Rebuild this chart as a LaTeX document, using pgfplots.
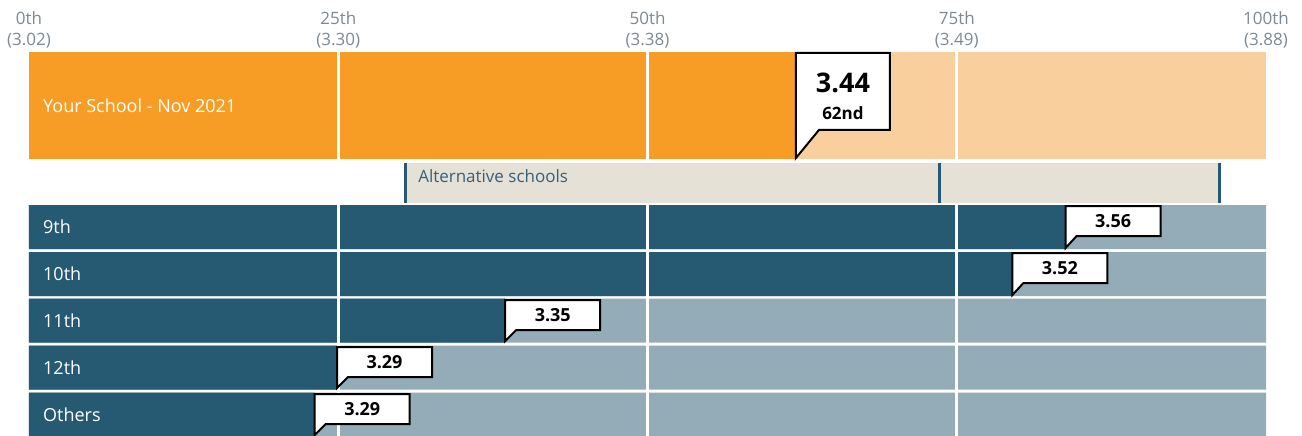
\documentclass[border=0pt]{standalone}
\usepackage{fontspec}
\setmainfont{Open Sans}
\usepackage{pgfplots}
\pgfplotsset{compat=1.18}

\definecolor{orangeD}{HTML}{F79D26}
\definecolor{orangeL}{HTML}{F9CF9E}
\definecolor{blueD}{HTML}{255A72}
\definecolor{blueL}{HTML}{94ABB8}
\definecolor{beige}{HTML}{E5E1D6}
\definecolor{tickgray}{HTML}{7D8891}
\definecolor{alttext}{HTML}{35607A}

% callout: value, row top, row bottom, text
\newcommand{\callout}[4]{%
  \draw[line width=2pt, fill=white, line join=miter]
    ([yshift=1pt]axis cs:#1,#3) -- ([yshift=-1pt]axis cs:#1,#2)
    -- ([xshift=95pt,yshift=-1pt]axis cs:#1,#2)
    -- ([xshift=95pt,yshift=-31pt]axis cs:#1,#2)
    -- ([xshift=11pt,yshift=-31pt]axis cs:#1,#2) -- cycle;
  \node[font=\bfseries\fontsize{18}{18}\selectfont] at ([xshift=47.5pt,yshift=-16pt]axis cs:#1,#2) {#4};
}
\newcommand{\rowlabel}[2]{%
  \node[anchor=west, inner sep=0pt, text=white, font=\fontsize{18}{18}\selectfont] at ([xshift=14pt]axis cs:0,#1) {#2};
}

\begin{document}
\begin{tikzpicture}
\begin{axis}[
  scale only axis, width=1237pt, height=384pt,
  xmin=0, xmax=100, ymin=52, ymax=436, y dir=reverse,
  axis line style={draw=none}, ytick=\empty,
  xtick={0,25,50,75,100},
  xticklabels={{0th\\(3.02)},{25th\\(3.30)},{50th\\(3.38)},{75th\\(3.49)},{100th\\(3.88)}},
  xticklabel pos=upper, major tick length=0pt,
  xticklabel style={align=center, text=tickgray, font=\fontsize{17}{21}\selectfont},
]
% your school
\addplot[xbar, bar width=107, bar shift=0pt, fill=orangeL, draw=none] coordinates {(100,105.5)};
\addplot[xbar, bar width=107, bar shift=0pt, fill=orangeD, draw=none] coordinates {(62.0,105.5)};

% grade rows: background and value
\addplot[xbar, bar width=44, bar shift=0pt, fill=blueL, draw=none] coordinates {
  (100,227) (100,274) (100,320.5) (100,367.5) (100,414.5)};
\addplot[xbar, bar width=44, bar shift=0pt, fill=blueD, draw=none] coordinates {
  (83.8,227) (79.5,274) (38.5,320.5) (24.9,367.5) (23.1,414.5)};

% percentile grid lines
\addplot[white, line width=3pt] coordinates {(25,52) (25,159)};
\addplot[white, line width=3pt] coordinates {(50,52) (50,159)};
\addplot[white, line width=3pt] coordinates {(75,52) (75,159)};
\addplot[white, line width=3pt] coordinates {(25,205) (25,436)};
\addplot[white, line width=3pt] coordinates {(50,205) (50,436)};
\addplot[white, line width=3pt] coordinates {(75,205) (75,436)};

% alternative schools band
\addplot[fill=beige, draw=none] coordinates {(30.4,162.5) (96.2,162.5) (96.2,203) (30.4,203)} -- cycle;
\addplot[blueD, line width=3pt] coordinates {(30.4,162.5) (30.4,203)};
\addplot[blueD, line width=3pt] coordinates {(73.6,162.5) (73.6,203)};
\addplot[blueD, line width=3pt] coordinates {(96.2,162.5) (96.2,203)};
\node[anchor=west, inner sep=0pt, text=alttext, font=\fontsize{17}{17}\selectfont] at ([xshift=13pt]axis cs:30.4,176) {Alternative schools};

\rowlabel{105.5}{Your School - Nov 2021}
\rowlabel{227}{9th}
\rowlabel{274}{10th}
\rowlabel{320.5}{11th}
\rowlabel{367.5}{12th}
\rowlabel{414.5}{Others}

% your school callout
\draw[line width=2pt, fill=white, line join=miter]
  ([yshift=1pt]axis cs:62.0,159) -- ([yshift=-1pt]axis cs:62.0,52)
  -- ([xshift=94pt,yshift=-1pt]axis cs:62.0,52)
  -- ([xshift=94pt,yshift=-78pt]axis cs:62.0,52)
  -- ([xshift=23pt,yshift=-78pt]axis cs:62.0,52) -- cycle;
\node[font=\bfseries\fontsize{27}{27}\selectfont] at ([xshift=47pt,yshift=-31pt]axis cs:62.0,52) {3.44};
\node[font=\bfseries\fontsize{17}{17}\selectfont] at ([xshift=47pt,yshift=-61pt]axis cs:62.0,52) {62nd};

\callout{83.8}{205}{249}{3.56}
\callout{79.5}{252}{296}{3.52}
\callout{38.5}{299}{342}{3.35}
\callout{24.9}{346}{389}{3.29}
\callout{23.1}{393}{436}{3.29}
\end{axis}
\pgfresetboundingbox
\path ([xshift=-29pt]current axis.south west) rectangle ([xshift=36pt,yshift=52pt]current axis.north east);
\end{tikzpicture}
\end{document}
